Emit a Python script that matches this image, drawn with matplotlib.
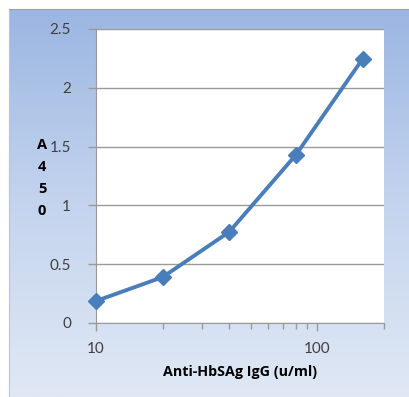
import numpy as np
import matplotlib
matplotlib.use("Agg")
import matplotlib.pyplot as plt
from matplotlib.colors import LinearSegmentedColormap
from matplotlib.ticker import FixedLocator, NullFormatter

# data
conc = [10, 20, 40, 80, 160]
absorb = [0.187, 0.39, 0.775, 1.43, 2.245]
y_ticks = [0, 0.5, 1, 1.5, 2, 2.5]
y_tick_labels = ["0", "0.5", "1", "1.5", "2", "2.5"]
x_ticks = [10, 100]
x_tick_labels = ["10", "100"]

W, H = 410, 397
fig = plt.figure(figsize=(W / 100, H / 100), dpi=100)
fig.patch.set_facecolor("white")

# gradient frame behind the chart
bg = fig.add_axes([9 / W, 0, 1 - 9 / W, 1 - 9 / H])
cmap = LinearSegmentedColormap.from_list("frame", ["#9bb6e2", "#c4d4ee", "#e0e8f5"])
bg.imshow(np.linspace(0, 1, 256).reshape(-1, 1), aspect="auto", cmap=cmap,
          extent=[0, 1, 0, 1])
bg.set_xlim(0, 1)
bg.set_ylim(0, 1)
bg.set_xticks([])
bg.set_yticks([])
for s in ["right", "bottom"]:
    bg.spines[s].set_visible(False)
bg.spines["top"].set_color("#a0a0a0")
bg.spines["left"].set_color("#b8c4d8")
bg.set_zorder(0)

ax = fig.add_axes([96 / W, 1 - 323 / H, 288 / W, 294 / H])
ax.set_zorder(1)
ax.set_facecolor("white")
ax.plot(conc, absorb, color="#4a7ebb", lw=2.8, marker="D", ms=8.5,
        markerfacecolor="#4a7ebb", markeredgecolor="#4a7ebb", zorder=3,
        clip_on=False)

ax.set_xscale("log")
ax.set_xlim(10, 200)
ax.set_ylim(0, 2.5)
ax.xaxis.set_major_locator(FixedLocator(x_ticks))
ax.set_xticklabels(x_tick_labels)
ax.xaxis.set_minor_locator(FixedLocator([20, 30, 40, 50, 60, 70, 80, 90, 200]))
ax.xaxis.set_minor_formatter(NullFormatter())
ax.set_yticks(y_ticks)
ax.set_yticklabels(y_tick_labels)

ax.grid(axis="y", color="#9a9a9a", lw=1)
ax.set_axisbelow(True)
for s in ["top", "right"]:
    ax.spines[s].set_visible(False)
ax.spines["left"].set_color("#9a9a9a")
ax.spines["bottom"].set_color("#9a9a9a")

font = "Lato"
ax.tick_params(axis="both", which="major", direction="out", length=6, width=1,
               color="#9a9a9a", labelsize=11, labelcolor="#404040", pad=4)
ax.tick_params(axis="x", which="minor", direction="out", length=4, width=1,
               color="#9a9a9a")
for lbl in ax.get_xticklabels() + ax.get_yticklabels():
    lbl.set_fontfamily(font)
ax.tick_params(axis="x", pad=8)
ax.tick_params(axis="y", pad=12)

bold = "Open Sans"
fig.text(42 / W, 1 - 178 / H, "A\n4\n5\n0", ha="center", va="center",
         fontsize=10.5, fontweight="bold", family=bold, linespacing=1.75,
         color="black")
fig.text(240 / W, 1 - 372 / H, "Anti-HbSAg IgG (u/ml)", ha="center",
         va="center", fontsize=10.3, fontweight="bold", family=bold,
         color="black")

fig.savefig("out.png", dpi=100)
